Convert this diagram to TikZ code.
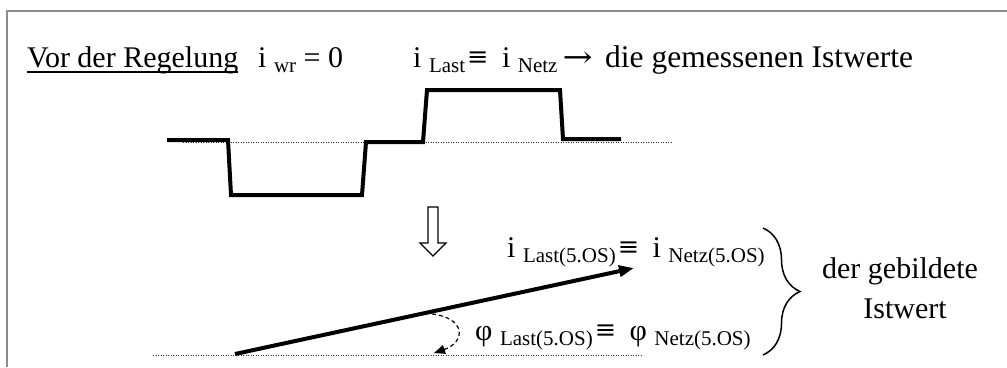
\documentclass[tikz,border=0pt]{standalone}
\usepackage{fontspec}
\setmainfont{Liberation Serif}
\newfontfamily\symf{DejaVu Serif}
\usetikzlibrary{arrows.meta,decorations.pathreplacing}
\newcommand{\sbs}[1]{\raisebox{-5pt}{\fontsize{21}{21}\selectfont #1}}
\newcommand{\eqv}{\hspace{2pt}\raisebox{1.5pt}{\scalebox{0.85}{\symf ≡}}\hspace{6pt}}
\newcommand{\arr}{\scalebox{1.2}[1]{\symf →}}
\begin{document}
\begin{tikzpicture}[x=1pt,y=-1pt,
  txt/.style={inner sep=0pt, font=\fontsize{30}{36}\selectfont, anchor=base west},
  frame/.style={draw=black!45, line width=2pt},
  wave/.style={line width=4pt, line join=miter},
  base/.style={line width=1pt, dash pattern=on 1pt off 1.5pt, black!85},
  vec/.style={line width=4pt, -{Triangle[length=15pt,width=11pt]}},
  angarrow/.style={line width=1.2pt, dash pattern=on 4pt off 3pt, -{Triangle[length=11pt,width=9pt]}},
  hollow/.style={line width=1.2pt, fill=white, line join=miter},
  brc/.style={line width=1.5pt, decorate, decoration={brace, amplitude=37pt}}]
\useasboundingbox (0,0) rectangle (1007,367);
% partial frame
\draw[frame] (6.5,367) -- (6.5,10.5) -- (1007,10.5);
% top texts
\node[txt] (vor) at (27,67) {Vor der Regelung};
\draw[line width=1.5pt] ([yshift=-5pt]vor.base west) -- ([yshift=-5pt]vor.base east);
\node[txt] (iwr) at (258,67) {i \sbs{wr} = 0};
\node[txt] (ilast) at (413,67) {i \sbs{Last}\eqv{} i \sbs{Netz}\,\arr{}\, {\fontsize{31.5}{36}\selectfont die gemessenen Istwerte}};
% measured waveform
\draw[base] (183,142) -- (673,142);
\draw[wave] (167,140) -- (228,140) -- (231,195) -- (362,195) -- (366,142) -- (423,142) -- (427,90) -- (560,90) -- (563,139) -- (621,139);
% hollow down arrow
\draw[hollow] (428,207) -- (438,207) -- (438,243) -- (446,243) -- (433,256) -- (420,243) -- (428,243) -- cycle;
% bottom vector
\draw[base] (153,355) -- (643,355);
\coordinate (v0) at (235,354);
\coordinate (v1) at (634,268);
\draw[vec] (v0) -- (v1);
\coordinate (a0) at (432,314);
\coordinate (a1) at (434,353);
\draw[angarrow] (a0) .. controls (466,318) and (466,342) .. (a1);
% bottom texts
\node[txt] (ivec) at (507,257) {i \sbs{Last(5.OS)}\eqv{} i \sbs{Netz(5.OS)}};
\node[txt] (phi) at (475,340) {φ \sbs{Last(5.OS)}\eqv{} φ \sbs{Netz(5.OS)}};
% brace
\coordinate (b0) at (763,228);
\coordinate (b1) at (763,355);
\draw[brc] (b0) -- (b1);
\node[txt, anchor=base] (geb) at (900,278) {der gebildete};
\node[txt, anchor=base] (ist) at (905,318) {Istwert};
\end{tikzpicture}
\end{document}
